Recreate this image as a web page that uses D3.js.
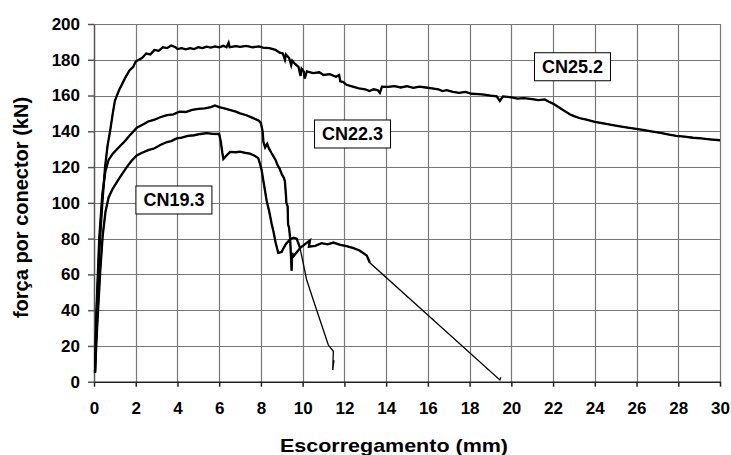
<!DOCTYPE html>
<html>
<head>
<meta charset="utf-8">
<script src="https://cdn.jsdelivr.net/npm/d3@7"></script>
<style>
  body { margin: 0; background: #fff; }
  text { font-family: Arial, "Liberation Sans", sans-serif; font-weight: bold; }
</style>
</head>
<body>
<svg id="viz"></svg>
<script>
var width = 731;
var height = 455;

// curves: [slip (mm), force (kN)]
var cn252 = [[0.05,5],[0.1,30],[0.2,60],[0.3,82],[0.4,100],[0.53,120],[0.65,132],[0.77,140],[0.9,150],[1.0,157],
  [1.2,163],[1.5,170],[1.7,174],[1.88,176],[2.0,179],[2.3,181],[2.5,183.5],[2.7,183],[2.9,185.5],[3.1,185],[3.3,187],
  [3.5,186.5],[3.7,188],[3.9,187],[4.0,186],[4.2,186.5],[4.4,185.8],[4.6,186.5],[4.8,186],[5.0,187],[5.2,186.5],
  [5.4,187.3],[5.6,186.8],[5.8,187.5],[6.0,187],[6.2,187.8],[6.35,187],[6.45,189.5],[6.5,187],[6.8,187.6],[7.0,187.2],
  [7.3,187.8],[7.6,187],[7.9,187.5],[8.1,186.8],[8.4,186.5],[8.7,185.5],[8.9,184],[9.05,183.5],[9.15,180],[9.2,183],
  [9.35,181],[9.45,177],[9.5,179.5],[9.65,177.5],[9.8,176],[9.9,171],[9.95,175],[10.05,173.5],[10.1,169.5],[10.2,173.5],
  [10.5,172.5],[10.8,173],[11.0,171.5],[11.3,172],[11.6,170.5],[11.75,171.5],[11.8,168],[11.95,167.5],[12.1,166],[12.4,165],
  [12.7,164],[13.0,163.5],[13.2,162.5],[13.4,163.5],[13.6,163],[13.7,161.5],[13.8,165],[14.1,164.8],[14.4,165.3],[14.7,164.5],
  [15.0,165.2],[15.3,164.3],[15.6,165],[15.9,164.5],[16.2,164],[16.5,163.5],[16.7,162.5],[16.9,163],[17.2,162],[17.5,161.5],
  [17.8,162],[18.1,161],[18.4,160.8],[18.7,160.5],[19.0,160],[19.3,159.5],[19.45,157],[19.6,159.5],[20.0,159],[20.3,158.3],
  [20.6,158.6],[21.0,158],[21.3,157.4],[21.6,157.8],[21.8,156.5],[22.0,155.5],[22.2,154],[22.4,152.5],[22.6,151],[22.8,149.5],
  [23.0,148.5],[23.3,147.3],[23.6,146.5],[24.0,145.3],[24.4,144.5],[24.8,143.6],[25.2,142.8],[25.6,142],[25.9,141.5],
  [26.3,140.8],[26.7,140],[27.1,139.2],[27.5,138.3],[27.9,137.5],[28.3,137],[28.7,136.4],[29.1,136],[29.5,135.5],[30.0,135]];

var cn223 = [[0.05,5],[0.12,40],[0.25,80],[0.4,105],[0.55,118],[0.7,124],[0.9,127.5],[1.1,130],[1.4,133.5],[1.7,137.5],
  [2.05,142],[2.3,143.5],[2.6,145.5],[2.9,146.5],[3.2,148],[3.5,149],[3.8,149.5],[4.1,151],[4.4,150.8],[4.7,152],
  [5.0,152.5],[5.3,152.8],[5.6,153.5],[5.8,154.5],[6.0,153.5],[6.2,153],[6.5,152],[6.8,151],[7.0,150],[7.3,149],
  [7.6,147.5],[7.9,146],[8.0,144.5],[8.08,140],[8.12,134],[8.2,131],[8.3,133],[8.4,130],[8.5,128],[8.6,126],[8.7,124],
  [8.8,121],[8.9,119],[9.0,116],[9.1,114],[9.15,112],[9.2,104],[9.22,100],[9.28,98],[9.3,88],[9.35,86],[9.4,80],
  [9.47,62],[9.5,72],[9.55,70],[9.9,75],[10.35,79],[10.3,75.5],[10.6,76],[10.9,77.5],[11.2,76.8],[11.47,77.8],
  [11.8,76.5],[12.1,75.8],[12.4,74.8],[12.7,73.5],[12.9,72],[13.07,70.5],[13.22,66.5],[19.45,1],[19.5,2.5]];

var cn193 = [[0.05,6],[0.15,30],[0.3,62],[0.42,82],[0.55,95],[0.7,103],[0.9,108],[1.17,113],[1.4,117],[1.57,120],
  [1.8,123.5],[2.05,126.5],[2.3,128],[2.6,129.5],[2.9,130.5],[3.2,132.5],[3.5,134],[3.7,134.5],[3.96,136],[4.2,136.5],
  [4.5,137.5],[4.8,137.8],[5.1,138.5],[5.4,139],[5.7,138.6],[6.0,138.5],[6.08,134],[6.15,128],[6.2,124.5],[6.35,126.5],
  [6.52,128.5],[6.8,128.3],[7.0,128.6],[7.25,128],[7.47,127.5],[7.7,126.3],[7.87,125],[7.95,122],[8.03,118.5],[8.15,110],
  [8.27,101.5],[8.4,95],[8.51,88.5],[8.6,84],[8.7,78],[8.83,72],[8.99,72.5],[9.1,75],[9.2,77],[9.39,79.5],[9.55,80.5],
  [9.71,80],[9.87,75],[10.19,57],[10.51,45.7],[11.23,20.5],[11.47,17],[11.44,6.5],[11.5,12]];

var curves = [cn252, cn223, cn193];
// slip where the noisy measured part ends and the thin unloading line begins
var noisyUntil = [30, 13.22, 9.87];

var labelNames = ["CN25.2", "CN22.3", "CN19.3"];
var labelX = [22.93, 12.39, 3.83];
var labelY = [176.1, 138.5, 101.6];

var xTicks = d3.range(0, 31, 2);
var yTicks = d3.range(0, 201, 20);

var svg = d3.select("#viz").attr("width", width).attr("height", height);

var x = d3.scaleLinear().domain([0, 30]).range([94, 720]);
var y = d3.scaleLinear().domain([0, 200]).range([381.7, 24]);

// grid
var grid = svg.append("g").attr("class", "grid");
grid.selectAll("line.v")
    .data(xTicks.slice(1))
    .enter()
    .append("line")
    .attr("class", "v")
    .attr("x1", function(d) { return Math.round(x(d)) + 0.5; })
    .attr("x2", function(d) { return Math.round(x(d)) + 0.5; })
    .attr("y1", y(0))
    .attr("y2", y(200))
    .attr("stroke", "#777")
    .attr("stroke-width", 1.2);
grid.selectAll("line.h")
    .data(yTicks.slice(1))
    .enter()
    .append("line")
    .attr("class", "h")
    .attr("x1", x(0))
    .attr("x2", x(30))
    .attr("y1", function(d) { return Math.round(y(d)) + 0.5; })
    .attr("y2", function(d) { return Math.round(y(d)) + 0.5; })
    .attr("stroke", "#777")
    .attr("stroke-width", 1.2);

// axes
var xAxis = svg.append("g")
    .attr("transform", "translate(0," + y(0) + ")")
    .call(d3.axisBottom(x).tickValues(xTicks).tickSize(5).tickPadding(15).tickSizeOuter(0).tickFormat(d3.format("d")));
var yAxis = svg.append("g")
    .attr("transform", "translate(" + x(0) + ",0)")
    .call(d3.axisLeft(y).tickValues(yTicks).tickSize(6).tickPadding(8).tickSizeOuter(0).tickFormat(d3.format("d")));

xAxis.select(".domain").attr("stroke", "#222").attr("stroke-width", 1.5);
yAxis.select(".domain").attr("stroke", "#555").attr("stroke-width", 1.5);
xAxis.selectAll(".tick line").attr("stroke", "#222").attr("stroke-width", 1.5);
yAxis.selectAll(".tick line").attr("stroke", "#555").attr("stroke-width", 1.5);
svg.selectAll(".tick text")
    .style("font-size", "17px")
    .attr("fill", "#000");

// curves
var line = d3.line()
    .x(function(d) { return x(d[0]); })
    .y(function(d) { return y(d[1]); });

var curveG = svg.append("g").attr("class", "curves");
curveG.selectAll("path.full")
    .data(curves)
    .enter()
    .append("path")
    .attr("class", "full")
    .attr("d", line)
    .attr("fill", "none")
    .attr("stroke", "#000")
    .attr("stroke-width", 1.3);
curveG.selectAll("path.noisy")
    .data(curves)
    .enter()
    .append("path")
    .attr("class", "noisy")
    .attr("d", function(d, i) {
        var k = d.findIndex(function(p) { return p[0] >= noisyUntil[i]; });
        return line(d.slice(0, k + 1));
    })
    .attr("fill", "none")
    .attr("stroke", "#000")
    .attr("stroke-width", 2.3);

// curve labels
var labels = svg.append("g").attr("class", "labels")
    .selectAll("g")
    .data(labelNames)
    .enter()
    .append("g")
    .attr("transform", function(d, i) {
        return "translate(" + x(labelX[i]) + "," + y(labelY[i]) + ")";
    });
labels.append("rect")
    .attr("x", -38)
    .attr("y", -14)
    .attr("width", 76)
    .attr("height", 28)
    .attr("fill", "#fff")
    .attr("stroke", "#000")
    .attr("stroke-width", 1);
labels.append("text")
    .attr("text-anchor", "middle")
    .attr("dy", "0.36em")
    .style("font-size", "18px")
    .text(function(d) { return d; });

// axis titles
svg.append("text")
    .attr("x", 394)
    .attr("y", 451.5)
    .attr("text-anchor", "middle")
    .style("font-size", "19px")
    .attr("textLength", 228)
    .attr("lengthAdjust", "spacingAndGlyphs")
    .text("Escorregamento (mm)");

svg.append("text")
    .attr("transform", "translate(28,207.5) rotate(-90)")
    .attr("text-anchor", "middle")
    .style("font-size", "20px")
    .text("força por conector (kN)");
</script>
</body>
</html>
